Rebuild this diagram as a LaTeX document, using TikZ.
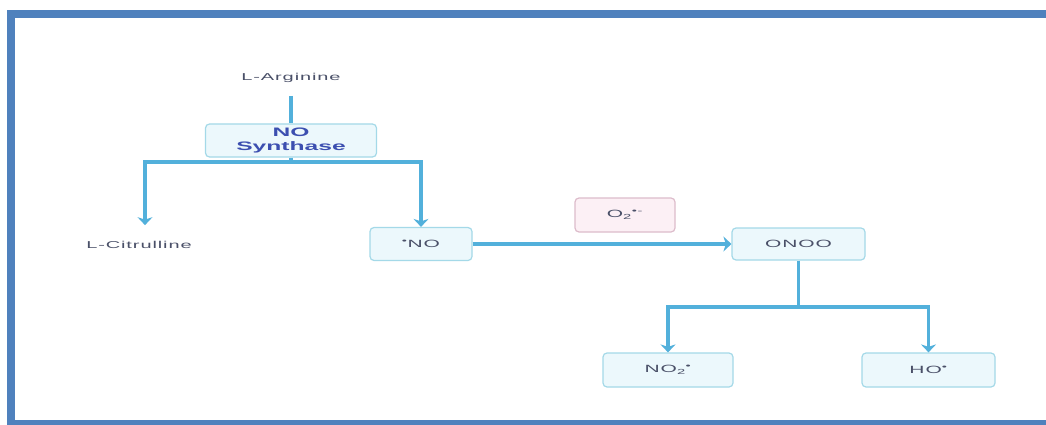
\documentclass[tikz,border=0pt]{standalone}
\usepackage{fontspec}
\setmainfont{Liberation Sans}
\newfontfamily\labelfont[FakeStretch=2,LetterSpace=9]{Liberation Sans}
\newfontfamily\titlefont[FakeStretch=2]{Liberation Sans}
\usetikzlibrary{shapes.geometric, arrows, arrows.meta}
\definecolor{framecol}{HTML}{4F81BD}
\definecolor{flowcol}{HTML}{52B0DB}
\definecolor{boxline}{HTML}{A4D9E8}
\definecolor{boxfill}{HTML}{ECF8FC}
\definecolor{pinkline}{HTML}{DDBCCB}
\definecolor{pinkfill}{HTML}{FCF0F5}
\definecolor{txtcol}{HTML}{4A5068}
\definecolor{enzcol}{HTML}{3C4FB0}
\tikzstyle{label} = [text=txtcol,font=\labelfont\fontsize{10}{11}\selectfont,inner sep=0pt]
\tikzstyle{species} = [draw=boxline,fill=boxfill,rounded corners=4pt,line width=1.2pt,inner sep=0pt,minimum height=33pt,text=txtcol,font=\labelfont\fontsize{10.5}{12}\selectfont]
\tikzstyle{radical} = [species,draw=pinkline,fill=pinkfill]
\tikzstyle{link} = [draw=flowcol,line width=3.5pt]
\tikzstyle{arrow} = [link,-{Stealth[length=8pt,width=15pt,inset=2.5pt]}]

\begin{document}
\begin{tikzpicture}[x=1pt,y=-1pt]
  \useasboundingbox (0,0) rectangle (1046,425);
  \fill[white] (0,0) rectangle (1046,425);
  \fill[framecol] (7,10) rectangle (1046,18);
  \fill[framecol] (7,10) rectangle (15,425);
  \fill[framecol] (7,420) rectangle (1046,425);

  \node[label] (arg) at (291,78) {L-Arginine};
  \node[species,minimum width=171pt,align=center,text=enzcol,
        font=\titlefont\bfseries\fontsize{12.3}{13.5}\selectfont] (nos) at (291,140.5) {NO\\Synthase};
  \node[label] (citr) at (139,245) {L-Citrulline};
  \node[species,minimum width=102pt] (no) at (421,244) {\textsuperscript{\textbullet}NO};
  \node[radical,minimum width=100pt,minimum height=34pt] (o2) at (625,215) {O\textsubscript{2}\textsuperscript{\textbullet-}};
  \node[species,minimum width=133pt,minimum height=32pt] (onoo) at (798.5,244) {ONOO};
  \node[species,minimum width=130pt,minimum height=34pt] (no2) at (668,370) {NO\textsubscript{2}\textsuperscript{\textbullet}};
  \node[species,minimum width=133pt,minimum height=34pt] (ho) at (928.5,370) {HO\textsuperscript{\textbullet}};
  \coordinate (split1) at (291,162);
  \coordinate (split2) at (798.5,307);

  \draw[link,shorten <=13pt] (arg) -- (nos);
  \draw[link] (nos) -- (split1);
  \draw[arrow,shorten >=16pt] (split1) -| ([xshift=6pt]citr.north);
  \draw[arrow] (split1) -| (no);
  \draw[arrow] (no) -- (onoo);
  \draw[link] (onoo) -- (split2);
  \draw[arrow] (split2) -| (no2);
  \draw[arrow] (split2) -| (ho);
\end{tikzpicture}
\end{document}
